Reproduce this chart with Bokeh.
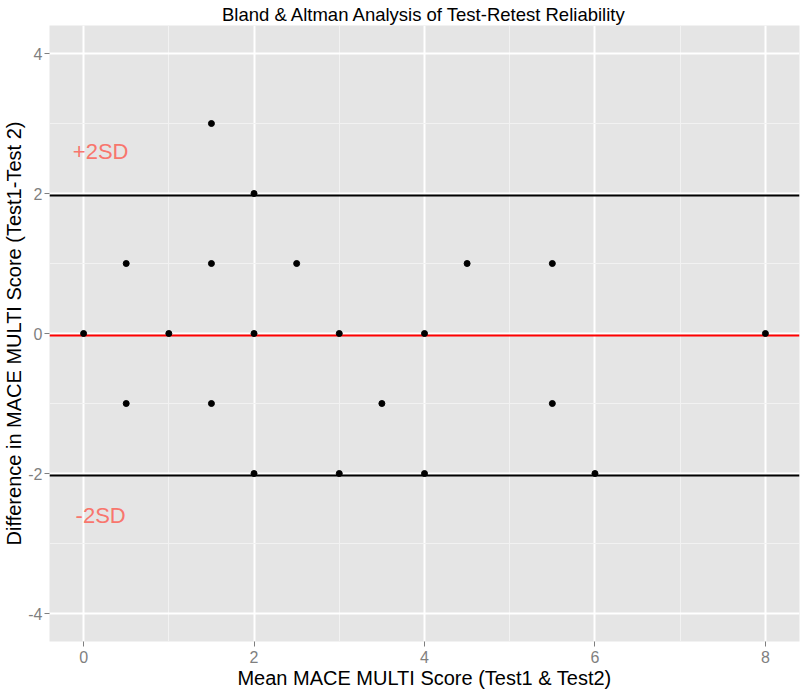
from bokeh.plotting import figure
from bokeh.models import Range1d, FixedTicker, PrintfTickFormatter
from bokeh.core.properties import value
from bokeh.embed import file_html
from bokeh.resources import INLINE

# ---- data ----
mean_scores = [0, 0.5, 0.5, 1, 1.5, 1.5, 1.5, 2, 2, 2, 2.5, 3, 3, 3.5, 4, 4, 4.5, 5.5, 5.5, 6, 8]
differences = [0, 1, -1, 0, 3, 1, -1, 2, 0, -2, 1, 0, -2, -1, 0, -2, 1, 1, -1, -2, 0]
bias = -0.03
upper_limit = 1.97
lower_limit = -2.03
sd_labels = ["+2SD", "-2SD"]
sd_label_x = [0.2, 0.2]
sd_label_y = [2.6, -2.6]
x_ticks = [0, 2, 4, 6, 8]
x_minor = [1, 3, 5, 7]
y_ticks = [-4, -2, 0, 2, 4]
y_minor = [-3, -1, 1, 3]

FONT = "Liberation Sans"
x_lo, x_hi = -0.4, 8.4
y_lo, y_hi = -4.4, 4.4

p = figure(width=800, height=691, output_backend="svg", toolbar_location=None,
           x_range=Range1d(x_lo, x_hi), y_range=Range1d(y_lo, y_hi),
           min_border_left=49, min_border_right=1, min_border_top=25, min_border_bottom=50,
           title="Bland & Altman Analysis of Test-Retest Reliability")
p.outline_line_color = None
p.background_fill_color = "#E5E5E5"
p.border_fill_color = "white"

p.title.align = "center"
p.title.text_font = FONT
p.title.text_font_size = "18.5px"
p.title.text_font_style = "normal"
p.title.text_color = "black"
p.title.standoff = 2
p.title.offset = 0

# axes
for ax in (p.xaxis[0], p.yaxis[0]):
    ax.axis_line_color = None
    ax.major_tick_line_color = "#7F7F7F"
    ax.major_tick_out = 5
    ax.major_tick_in = 0
    ax.minor_tick_line_color = None
    ax.major_label_text_color = "#7F7F7F"
    ax.major_label_text_font = FONT
    ax.major_label_text_font_size = "16px"
    ax.major_label_standoff = 2
    ax.axis_label_text_font = FONT
    ax.axis_label_text_font_size = "20px"
    ax.axis_label_text_font_style = "normal"
    ax.axis_label_text_color = "black"
    ax.axis_label_standoff = 0
    ax.formatter = PrintfTickFormatter(format="%d")

p.xaxis.major_label_standoff = 4
p.xaxis.axis_label_standoff = 1
p.xaxis.ticker = FixedTicker(ticks=x_ticks, minor_ticks=x_minor)
p.yaxis.ticker = FixedTicker(ticks=y_ticks, minor_ticks=y_minor)
p.xaxis.axis_label = "Mean MACE MULTI Score (Test1 & Test2)"
p.yaxis.axis_label = "Difference in MACE MULTI Score (Test1-Test 2)"

# grid
for g in (p.xgrid[0], p.ygrid[0]):
    g.grid_line_color = "white"
    g.grid_line_width = 2
    g.minor_grid_line_color = "#F2F2F2"
    g.minor_grid_line_width = 1

# reference lines
p.hspan(y=[upper_limit, lower_limit], line_color="black", line_width=2)
p.hspan(y=[bias], line_color="#FF0000", line_width=2)

# points
p.scatter(mean_scores, differences, size=6, color="black")

# SD labels
p.text(x=sd_label_x, y=sd_label_y, text=sd_labels, text_align="center",
       text_baseline="middle", text_font=value(FONT), text_font_size="22px",
       text_color="#F8766D")

open("out.html", "w").write(file_html(p, INLINE))
